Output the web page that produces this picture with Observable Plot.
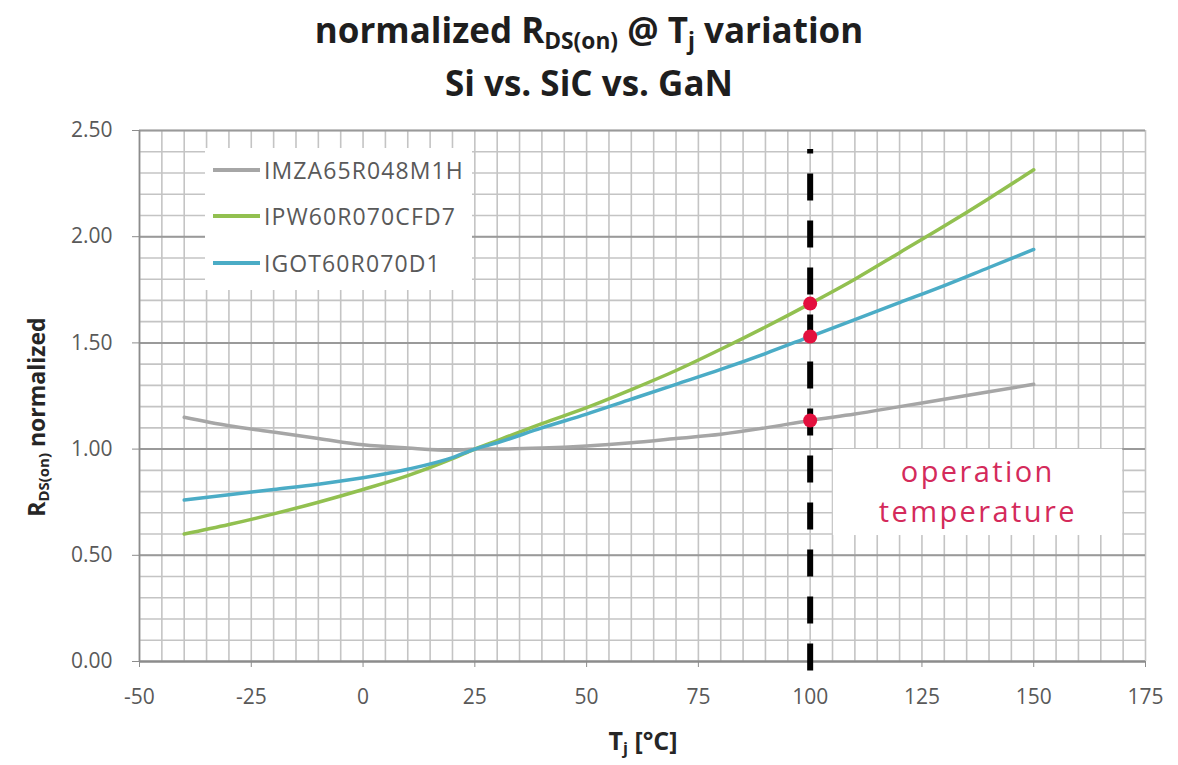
<!DOCTYPE html>
<html>
<head>
<meta charset="utf-8">
<script src="https://cdn.jsdelivr.net/npm/d3@7"></script>
<script src="https://cdn.jsdelivr.net/npm/@observablehq/plot@0.6"></script>
<style>
  body { margin: 0; background: #fff; font-family: "Open Sans", sans-serif; }
  #wrap { position: relative; width: 1178px; height: 765px; overflow: hidden; }
  #title { height: 112px; width: 1178px; text-align: center; font-weight: bold; color: #1e1e1e; font-size: 35px; }
  #title .l1 { position: absolute; left: 0; width: 1178px; top: 7px; line-height: 46px; }
  #title .l2 { position: absolute; left: 0; width: 1178px; top: 60px; line-height: 46px; }
  .sub { font-size: 65%; position: relative; top: 0.27em; display: inline-block; line-height: 0.8em; }
  #ytitle { position: absolute; left: 36px; top: 417px; transform: translate(-50%, -50%) rotate(-90deg); white-space: nowrap; font-weight: bold; font-size: 23px; color: #262626; }
  #xtitle { position: absolute; left: 643px; top: 740px; transform: translate(-50%, -50%); white-space: nowrap; font-weight: bold; font-size: 25px; color: #262626; }
  #legend { position: absolute; left: 205px; top: 148px; width: 267px; height: 142px; background: #fff; }
  .lrow { position: absolute; left: 8px; height: 30px; display: flex; align-items: center; font-size: 23px; letter-spacing: 1.1px; color: #595959; }
  .lrow .sw { width: 47px; height: 4px; margin-right: 4px; }
  #chart { position: absolute; left: 0; top: 112px; }
</style>
</head>
<body>
<div id="wrap">
  <div id="title">
    <div class="l1">normalized R<span class="sub">DS(on)</span> @ T<span class="sub">j</span> variation</div>
    <div class="l2">Si vs. SiC vs. GaN</div>
  </div>
  <div id="chart"></div>
  <div id="legend"></div>
  <div id="ytitle">R<span class="sub">DS(on)</span> normalized</div>
  <div id="xtitle">T<span class="sub">j</span> [°C]</div>
</div>
<script>
// ---- data ----
const temps = [-40, -30, -20, -10, 0, 10, 20, 25, 30, 40, 50, 60, 70, 80, 90, 100, 110, 120, 130, 140, 150];
const imza65r048m1h = [1.15, 1.11, 1.08, 1.05, 1.02, 1.005, 0.995, 1.0, 1.0, 1.005, 1.015, 1.03, 1.05, 1.07, 1.10, 1.135, 1.165, 1.20, 1.235, 1.27, 1.305];
const ipw60r070cfd7 = [0.60, 0.645, 0.695, 0.75, 0.81, 0.875, 0.955, 1.0, 1.04, 1.12, 1.195, 1.28, 1.37, 1.47, 1.575, 1.685, 1.80, 1.925, 2.05, 2.18, 2.315];
const igot60r070d1 = [0.76, 0.785, 0.81, 0.835, 0.865, 0.905, 0.96, 1.0, 1.03, 1.10, 1.165, 1.235, 1.305, 1.375, 1.45, 1.53, 1.61, 1.69, 1.77, 1.855, 1.94];
const seriesNames = ["IMZA65R048M1H", "IPW60R070CFD7", "IGOT60R070D1"];
const seriesColors = ["#a6a6a6", "#92c050", "#4bacc6"];
const xTicks = [-50, -25, 0, 25, 50, 75, 100, 125, 150, 175];
const yTicks = [0, 0.5, 1.0, 1.5, 2.0, 2.5];
const operationTemp = 100;
const annotationLines = ["operation", "temperature"];

// ---- build tables ----
const seriesValues = [imza65r048m1h, ipw60r070cfd7, igot60r070d1];
const rows = [];
seriesNames.forEach((name, i) => temps.forEach((t, j) => rows.push({series: name, t, v: seriesValues[i][j]})));
const opPoints = seriesNames.map((name, i) => ({series: name, t: operationTemp, v: seriesValues[i][temps.indexOf(operationTemp)]}));
const minorX = d3.range(-50, 176, 5);
const minorY = d3.range(0, 26, 1).map(d => d / 10);

const chart = Plot.plot({
  width: 1178,
  height: 653,
  marginLeft: 139,
  marginRight: 33,
  marginTop: 18,
  marginBottom: 104,
  style: {fontFamily: "Open Sans, sans-serif", fontSize: "21px", background: "#fff"},
  x: {domain: [-50, 175]},
  y: {domain: [0, 2.5]},
  color: {domain: seriesNames, range: seriesColors},
  marks: [
    Plot.ruleX(minorX, {y1: 0, y2: 2.5, stroke: "#c4c4c4", strokeWidth: 1.6}),
    Plot.ruleY(minorY, {x1: -50, x2: 175, stroke: "#c4c4c4", strokeWidth: 1.6}),
    Plot.ruleY(yTicks, {x1: -50, x2: 175, stroke: "#9a9a9a", strokeWidth: 2}),
    // annotation box background
    Plot.rect([{x1: 105.2, x2: 169.9, y1: 0.593, y2: 1.0}], {x1: "x1", x2: "x2", y1: "y1", y2: "y2", fill: "#fff"}),
    Plot.axisY({ticks: yTicks, tickFormat: d3.format(".2f"), tickSize: 7, tickPadding: 20, fontSize: 21, color: "#595959", stroke: "#8c8c8c", label: null}),
    Plot.axisX({ticks: xTicks, tickFormat: d => String(d), tickSize: 6, tickPadding: 22, fontSize: 21, color: "#595959", stroke: "#8c8c8c", label: null}),
    Plot.ruleY([0], {x1: -50, x2: 175, stroke: "#8c8c8c", strokeWidth: 2}),
    Plot.ruleX([-50], {y1: 0, y2: 2.5, stroke: "#8c8c8c", strokeWidth: 1.6}),
    Plot.line(rows, {x: "t", y: "v", z: "series", stroke: "series", strokeWidth: 3.5, curve: "monotone-x"}),
    Plot.ruleX([operationTemp], {y1: -0.045, y2: 2.41, stroke: "#000", strokeWidth: 6, strokeDasharray: "27,20"}),
    Plot.dot(opPoints, {x: "t", y: "v", r: 7, fill: "#e3103e", stroke: "none"}),
    Plot.text(annotationLines, {x: 137.5, y: (d, i) => [0.887, 0.699][i], text: d => d, fill: "#d42a5b", fontSize: 29})
  ]
});
document.getElementById("chart").appendChild(chart);
d3.select(chart).selectAll("text")
  .filter(function() { return /operation|temperature/.test(this.textContent); })
  .style("letter-spacing", "2.4px");

// legend
const legend = document.getElementById("legend");
const rowTops = [22, 68, 115];
seriesNames.forEach((name, i) => {
  const r = document.createElement("div");
  r.className = "lrow";
  r.style.top = (rowTops[i] - 15) + "px";
  r.innerHTML = `<span class="sw" style="background:${seriesColors[i]}"></span><span>${name}</span>`;
  legend.appendChild(r);
});
</script>
</body>
</html>
